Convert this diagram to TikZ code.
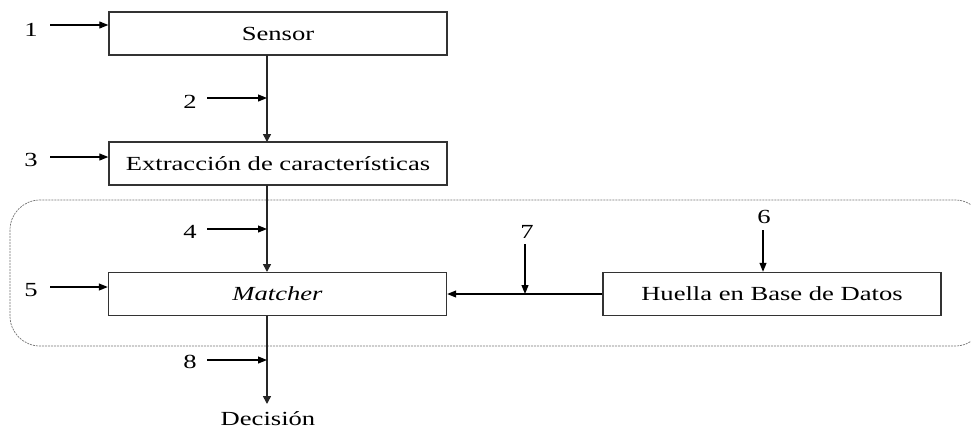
\documentclass[tikz,border=0pt]{standalone}
\usepackage{fontspec}
\setmainfont[FakeStretch=1.33]{Liberation Serif}
\usetikzlibrary{arrows.meta}
\begin{document}
\begin{tikzpicture}[x=1pt,y=-1pt,
  blk/.style={draw=black!80, line width=1.4pt, minimum width=338pt, minimum height=43pt, inner sep=0pt, font=\fontsize{20}{23}\selectfont},
  lbl/.style={font=\fontsize{20}{23}\selectfont, inner sep=0pt},
  conn/.style={line width=1.5pt, draw=black!85, -{Triangle[length=8pt,width=8pt]}},
  inarr/.style={line width=1.1pt, -{Triangle[length=9pt,width=7pt]}},
  grp/.style={draw=black!55, line width=0.7pt, dash pattern=on 2pt off 1pt, rounded corners=30pt}]
\useasboundingbox (0,0) rectangle (971,432);
\begin{scope}
\clip (0,0) rectangle (971,432);
\draw[grp] (10,200) rectangle (985,346);
\end{scope}
\node[blk] (sensor) at (278,33.5) {Sensor};
\node[blk] (extr) at (278,163.5) {Extracción de características};
\node[blk] (match) at (277.5,294) {\itshape Matcher};
\node[blk] (db) at (772,294) {Huella en Base de Datos};
\node[lbl] (dec) at (268,419) {Decisión};
% main vertical spine
\coordinate (v1) at (267,55);
\coordinate (v2) at (267,142);
\coordinate (v3) at (267,185);
\coordinate (v4) at (267,272);
\coordinate (v5) at (267,316);
\coordinate (v6) at (267,404);
\draw[conn] (v1) -- (v2);
\draw[conn] (v3) -- (v4);
\draw[conn] (v5) -- (v6);
% Huella -> Matcher
\draw[line width=1.1pt, -{Triangle[length=9pt,width=7pt]}] (db.west) -- (match.east);
% numbered inputs
\node[lbl] (n1) at (31,30) {1};
\coordinate (a1) at (50,25);
\draw[inarr] (a1) -- (sensor.west |- a1);
\node[lbl] (n2) at (190,102) {2};
\coordinate (a2) at (207,98);
\coordinate (b2) at (267,98);
\draw[inarr] (a2) -- (b2);
\node[lbl] (n3) at (31,160) {3};
\coordinate (a3) at (50,157);
\draw[inarr] (a3) -- (extr.west |- a3);
\node[lbl] (n4) at (190,232) {4};
\coordinate (a4) at (207,229);
\coordinate (b4) at (267,229);
\draw[inarr] (a4) -- (b4);
\node[lbl] (n5) at (31,290) {5};
\coordinate (a5) at (50,287);
\draw[inarr] (a5) -- (match.west |- a5);
\node[lbl] (n6) at (764,217) {6};
\coordinate (a6) at (763,230);
\draw[inarr] (a6) -- (a6 |- db.north);
\node[lbl] (n7) at (527,232) {7};
\coordinate (a7) at (525,244);
\coordinate (b7) at (525,294);
\draw[inarr] (a7) -- (b7);
\node[lbl] (n8) at (190,362) {8};
\coordinate (a8) at (207,360);
\coordinate (b8) at (267,360);
\draw[inarr] (a8) -- (b8);
\end{tikzpicture}
\end{document}
